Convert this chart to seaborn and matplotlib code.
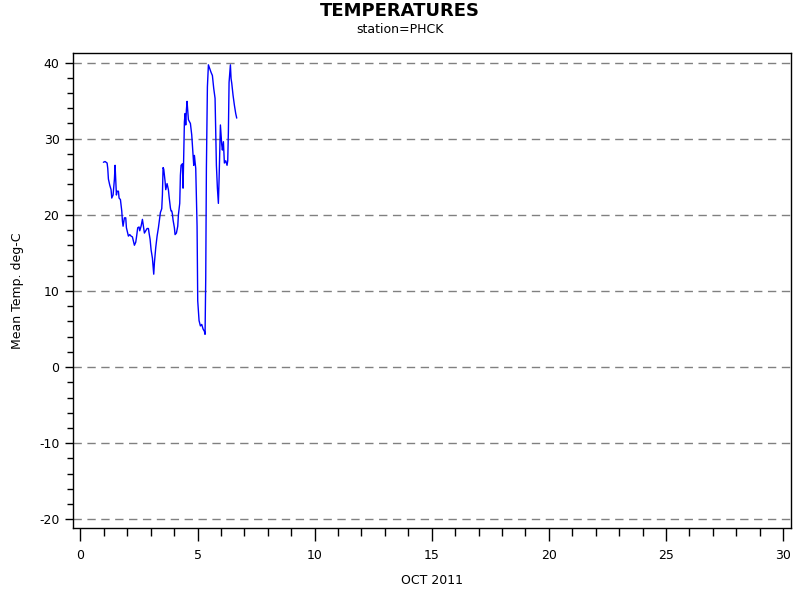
import numpy as np
import pandas as pd
import matplotlib
matplotlib.use("Agg")
import matplotlib.pyplot as plt
from matplotlib.ticker import MultipleLocator
import seaborn as sns

# Day of month (decimal) and mean temperature
days = [0.983, 1.054, 1.140, 1.168, 1.196, 1.253, 1.310, 1.339, 1.396, 1.453,
        1.481, 1.510, 1.538, 1.566, 1.623, 1.652, 1.709, 1.766, 1.794, 1.822,
        1.879, 1.936, 1.965, 2.022, 2.050, 2.107, 2.164, 2.221, 2.278, 2.306,
        2.363, 2.392, 2.448, 2.505, 2.534, 2.591, 2.648, 2.676, 2.733, 2.790,
        2.847, 2.904, 2.932, 2.975, 3.018, 3.075, 3.103, 3.131, 3.160, 3.217,
        3.274, 3.331, 3.373, 3.416, 3.473, 3.501, 3.530, 3.558, 3.587, 3.615,
        3.644, 3.700, 3.757, 3.786, 3.843, 3.871, 3.900, 3.928, 3.957, 4.013,
        4.042, 4.099, 4.156, 4.184, 4.241, 4.270, 4.298, 4.355, 4.383, 4.412,
        4.440, 4.469, 4.497, 4.526, 4.554, 4.582, 4.611, 4.696, 4.753, 4.810,
        4.839, 4.867, 4.924, 4.981, 5.009, 5.066, 5.123, 5.180, 5.237, 5.294,
        5.322, 5.351, 5.379, 5.422, 5.465, 5.522, 5.579, 5.635, 5.692, 5.749,
        5.778, 5.806, 5.849, 5.891, 5.920, 5.977, 6.005, 6.034, 6.062, 6.105,
        6.147, 6.204, 6.261, 6.290, 6.318, 6.347, 6.404, 6.432, 6.461, 6.517,
        6.574, 6.631, 6.674]
temps = [26.9, 27.0, 26.8, 26.1, 24.7, 23.9, 23.3, 22.2, 22.6, 24.7,
         26.5, 24.6, 22.6, 23.1, 23.1, 22.2, 22.0, 20.5, 19.2, 18.5,
         19.6, 19.6, 18.3, 17.6, 17.2, 17.4, 17.2, 17.1, 16.4, 16.0,
         16.4, 17.0, 18.3, 18.4, 17.9, 18.5, 19.4, 18.8, 17.6, 17.9,
         18.2, 18.2, 17.6, 16.8, 15.4, 14.3, 13.2, 12.2, 13.7, 15.7,
         17.2, 18.3, 19.3, 20.3, 20.8, 22.6, 26.2, 26.0, 25.2, 24.4,
         23.3, 24.1, 23.3, 22.4, 20.9, 20.5, 20.5, 20.1, 19.3, 18.3,
         17.4, 17.6, 18.5, 20.0, 21.5, 25.2, 26.5, 26.7, 23.5, 28.3,
         32.2, 33.3, 31.8, 33.8, 34.9, 33.8, 32.5, 32.0, 30.5, 27.8,
         26.5, 27.8, 26.1, 18.5, 8.7, 6.1, 5.4, 5.6, 5.0, 4.7,
         4.3, 11.7, 26.1, 36.8, 39.7, 39.2, 38.7, 38.3, 36.6, 35.3,
         30.5, 26.5, 23.5, 21.5, 24.6, 31.8, 30.5, 29.2, 28.5, 29.6,
         26.8, 27.1, 26.5, 27.1, 30.9, 37.4, 39.7, 37.9, 37.3, 35.7,
         34.4, 33.3, 32.7]

x_ticks = [0, 5, 10, 15, 20, 25, 30]
y_ticks = [-20, -10, 0, 10, 20, 30, 40]

df = pd.DataFrame({"day": days, "temp": temps})

sns.set_style("white")
plt.rcParams['font.family'] = ['DejaVu Sans']
plt.rcParams['axes.unicode_minus'] = False
plt.rcParams['text.color'] = 'black'
plt.rcParams['axes.labelcolor'] = 'black'

fig = plt.figure(figsize=(8, 6), dpi=100)
ax = fig.add_axes([0.0917, 0.1205, 0.8966, 0.7905])

# Dashed reference lines at major y ticks
for yv in y_ticks:
    ax.axhline(yv, color="#808080", linestyle=(0, (6, 4)), linewidth=1, zorder=1)

sns.lineplot(data=df, x="day", y="temp", color="#0000ff", linewidth=1,
             ax=ax, zorder=3, estimator=None, sort=False)

ax.set_xlim(-0.3, 30.32)
ax.set_ylim(-21.1, 41.2)
ax.set_xticks(x_ticks)
ax.set_yticks(y_ticks)
ax.xaxis.set_minor_locator(MultipleLocator(1))
ax.yaxis.set_minor_locator(MultipleLocator(2))
ax.tick_params(axis="both", which="both", bottom=True, left=True,
               top=False, right=False, direction="out", width=1,
               color="black")
ax.tick_params(axis="both", which="major", labelsize=9, labelcolor="black")
ax.tick_params(axis="x", which="major", length=9, pad=6)
ax.tick_params(axis="x", which="minor", length=6)
ax.tick_params(axis="y", which="major", length=6, pad=4)
ax.tick_params(axis="y", which="minor", length=4)

for s in ax.spines.values():
    s.set_color("black")
    s.set_linewidth(1)

ax.set_xlabel("OCT 2011", fontsize=9, labelpad=9)
ax.set_ylabel("Mean Temp. deg-C", fontsize=9, labelpad=11)

fig.text(0.5, 0.981, "TEMPERATURES", ha="center", va="center",
         fontsize=13, fontweight="bold")
fig.text(0.5, 0.951, "station=PHCK", ha="center", va="center", fontsize=9)

fig.savefig("out.png", dpi=100)
